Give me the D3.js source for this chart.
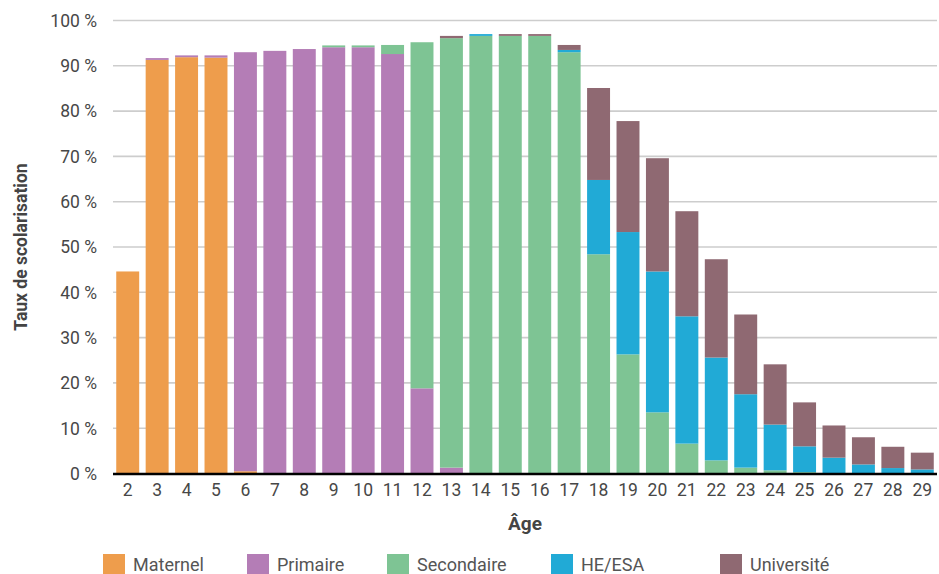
<!DOCTYPE html>
<html><head><meta charset="utf-8">
<script src="https://cdn.jsdelivr.net/npm/d3@7/dist/d3.min.js"></script>
<style>
html,body{margin:0;padding:0;background:#fff;}
svg{display:block;font-family:Roboto, "Noto Sans", sans-serif;}
</style></head>
<body><svg id="c" width="939" height="574"></svg>
<script>
const ages = [2,3,4,5,6,7,8,9,10,11,12,13,14,15,16,17,18,19,20,21,22,23,24,25,26,27,28,29];
const seriesNames = ["Maternel","Primaire","Secondaire","HE/ESA","Université"];
const maternel   = [44.6,91.3,91.9,91.8,0.5,0,0,0,0,0,0,0,0,0,0,0,0,0,0,0,0,0,0,0,0,0,0,0];
const primaire   = [0,0.4,0.4,0.5,92.5,93.3,93.7,94.1,94.1,92.6,18.8,1.3,0,0,0,0,0,0,0,0,0,0,0,0,0,0,0,0];
const secondaire = [0,0,0,0,0,0,0,0.4,0.4,2.0,76.4,94.8,96.6,96.6,96.6,93.0,48.4,26.3,13.5,6.6,2.9,1.3,0.7,0.3,0.1,0.1,0,0];
const heesa      = [0,0,0,0,0,0,0,0,0,0,0,0,0.4,0,0,0.5,16.4,27.0,31.1,28.1,22.7,16.2,10.1,5.7,3.4,1.9,1.2,0.9];
const universite = [0,0,0,0,0,0,0,0,0,0,0,0.5,0,0.4,0.4,1.1,20.3,24.5,25.0,23.2,21.7,17.6,13.3,9.7,7.1,6.0,4.7,3.7];
const yTicks = [0,10,20,30,40,50,60,70,80,90,100];
const colors = ["#EE9D4C","#B47DB6","#7EC494","#21AAD6","#8F6972"];

const svg = d3.select("#c");
const x = d3.scaleBand().domain(ages).range([113, 937]).paddingInner(0.22).paddingOuter(0.11);
const y = d3.scaleLinear().domain([0,100]).range([473.5, 20.5]);

const rows = ages.map((a,i)=>({age:a, "Maternel":maternel[i], "Primaire":primaire[i], "Secondaire":secondaire[i], "HE/ESA":heesa[i], "Université":universite[i]}));
const stack = d3.stack().keys(seriesNames)(rows);

// gridlines
svg.append("g").selectAll("line").data(yTicks.filter(d=>d>0)).join("line")
  .attr("x1",113).attr("x2",937).attr("y1",d=>y(d)).attr("y2",d=>y(d))
  .attr("stroke","#cdcdcd").attr("stroke-width",1.6);

// y labels
svg.append("g").selectAll("text").data(yTicks).join("text")
  .attr("x",97).attr("y",d=>y(d)).attr("dy","0.36em").attr("text-anchor","end")
  .attr("font-size",17.5).attr("fill","#474747").text(d=>d+" %");

// bars
svg.append("g").selectAll("g").data(stack).join("g").attr("fill",(d,i)=>colors[i])
  .selectAll("rect").data(d=>d).join("rect")
  .attr("x",d=>x(d.data.age)).attr("width",x.bandwidth())
  .attr("y",d=>y(d[1])).attr("height",d=>Math.max(0,y(d[0])-y(d[1])));

// baseline
svg.append("line").attr("x1",113).attr("x2",937).attr("y1",y(0)+0.5).attr("y2",y(0)+0.5)
  .attr("stroke","#000").attr("stroke-width",2.6);

// x labels
const xAxis = d3.axisBottom(x).tickSize(0).tickPadding(0);
const gx = svg.append("g").attr("transform",`translate(0,${y(0)+10})`).call(xAxis);
gx.select(".domain").remove();
gx.selectAll("text").attr("font-size",17.5).attr("fill","#474747").attr("font-family","Roboto, sans-serif").attr("dy","0.71em");

// axis titles
svg.append("text").attr("x",(113+937)/2).attr("y",530).attr("text-anchor","middle")
  .attr("font-size",19).attr("font-weight","bold").attr("fill","#444").text("Âge");
svg.append("text").attr("transform","translate(27,247) rotate(-90)").attr("text-anchor","middle")
  .attr("font-size",17.5).attr("font-weight","bold").attr("fill","#444").text("Taux de scolarisation");

// legend
const legX = [103,247,387,551,720];
const lg = svg.append("g").selectAll("g").data(seriesNames).join("g")
  .attr("transform",(d,i)=>`translate(${legX[i]},554)`);
lg.append("rect").attr("width",22).attr("height",22).attr("fill",(d,i)=>colors[i]);
lg.append("text").attr("x",30).attr("y",17).attr("font-size",18).attr("fill","#555").text(d=>d);
</script></body></html>
